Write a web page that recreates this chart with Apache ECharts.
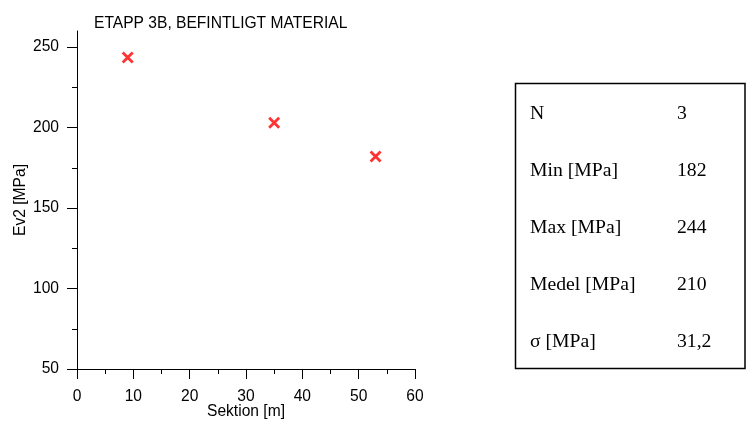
<!DOCTYPE html>
<html>
<head>
<meta charset="utf-8">
<script src="https://cdn.jsdelivr.net/npm/echarts@6/dist/echarts.min.js"></script>
<style>
  html, body { margin: 0; padding: 0; background: #fff; }
  #chart { width: 746px; height: 421px; }
</style>
</head>
<body>
<div id="chart"></div>
<script>
// Measured Ev2 values per section
const sektion = [9, 35, 53];
const ev2 = [243.5, 203, 182];

// Axis ticks
const yMajorTicks = [50, 100, 150, 200, 250];
const yMinorTicks = [75, 125, 175, 225];

// Summary statistics table
const statLabels = ['N', 'Min [MPa]', 'Max [MPa]', 'Medel [MPa]', 'σ [MPa]'];
const statValues = ['3', '182', '244', '210', '31,2'];

const sans = '"Liberation Sans", Arial, sans-serif';
const serif = '"Liberation Serif", "Times New Roman", serif';
const fs = 15.6;

// X-shaped marker made of two filled bars
const crossPath = 'path://M0,2L2,0L12,10L10,12Z M10,0L12,2L2,12L0,10Z';

const chart = echarts.init(document.getElementById('chart'), null, { renderer: 'canvas' });

const tableGraphics = [{
  type: 'rect',
  shape: { x: 515.5, y: 83.5, width: 229.5, height: 285 },
  style: { fill: 'none', stroke: '#000', lineWidth: 1.5 }
}];
statLabels.forEach((label, i) => {
  const yc = 113.5 + i * 57;
  tableGraphics.push({
    type: 'text', x: 530, y: yc,
    style: { text: label, font: '19.7px ' + serif, fill: '#000', textVerticalAlign: 'middle' }
  });
  tableGraphics.push({
    type: 'text', x: 677, y: yc,
    style: { text: statValues[i], font: '19.7px ' + serif, fill: '#000', textVerticalAlign: 'middle' }
  });
});

chart.setOption({
  animation: false,
  backgroundColor: '#fff',
  title: {
    text: 'ETAPP 3B, BEFINTLIGT MATERIAL',
    left: 89, top: 11,
    textStyle: { fontFamily: sans, fontSize: fs, fontWeight: 'normal', color: '#000' }
  },
  grid: { left: 77, right: 331, top: 31, bottom: 52, outerBoundsMode: 'none', containLabel: false },
  xAxis: {
    type: 'value', min: 0, max: 60, interval: 10,
    name: 'Sektion [m]', nameLocation: 'middle', nameGap: 35, nameMoveOverlap: false,
    nameTextStyle: { fontFamily: sans, fontSize: fs, color: '#000' },
    axisLine: { show: true, onZero: false, lineStyle: { color: '#000', width: 1 } },
    axisTick: { show: true, inside: false, length: 10, lineStyle: { color: '#000' } },
    minorTick: { show: true, splitNumber: 2, length: 5, lineStyle: { color: '#000' } },
    axisLabel: { fontFamily: sans, fontSize: fs, color: '#000', margin: 20 },
    splitLine: { show: false }
  },
  yAxis: [{
    type: 'value', min: 50, max: 260,
    name: 'Ev2 [MPa]', nameLocation: 'middle', nameGap: 48, nameMoveOverlap: false,
    nameTextStyle: { fontFamily: sans, fontSize: fs, color: '#000' },
    axisLine: { show: true, onZero: false, lineStyle: { color: '#000', width: 1 } },
    axisTick: { show: true, inside: false, length: 10, customValues: yMajorTicks, lineStyle: { color: '#000' } },
    axisLabel: { fontFamily: sans, fontSize: fs, color: '#000', margin: 18, customValues: yMajorTicks },
    splitLine: { show: false }
  }, {
    type: 'value', min: 50, max: 260, position: 'left', offset: 0,
    axisLine: { show: false },
    axisTick: { show: true, inside: false, length: 5, customValues: yMinorTicks, lineStyle: { color: '#000' } },
    axisLabel: { show: false },
    splitLine: { show: false }
  }],
  series: [{
    type: 'scatter',
    data: sektion.map((x, i) => [x, ev2[i]]),
    symbol: crossPath,
    symbolSize: 12,
    itemStyle: { color: '#ff0000' }
  }],
  graphic: tableGraphics
});
</script>
</body>
</html>
